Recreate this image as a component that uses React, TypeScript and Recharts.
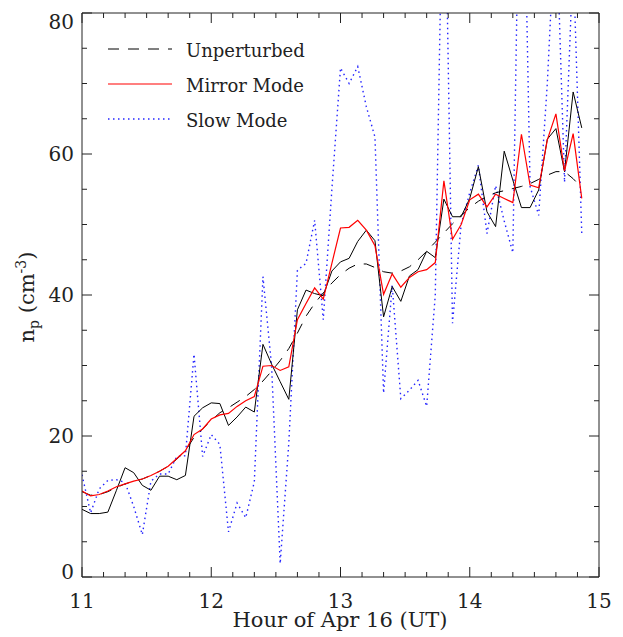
import { Legend, Line, LineChart, XAxis, YAxis } from 'recharts'

// sample times, minutes after 11:00 UT
const minutes = [
  0, 4, 8, 12, 16, 20, 24, 28, 32, 36, 40, 44, 48, 52, 56, 60, 64, 68, 72, 76,
  80, 84, 88, 92, 96, 100, 104, 108, 112, 116, 120, 124, 128, 132, 136, 140, 144, 148, 152, 156,
  160, 164, 168, 172, 176, 180, 184, 188, 192, 196, 200, 204, 208, 212, 216, 220, 224, 228, 232
]

// the solid black curve (no legend entry)
const observed = [
  9.6, 9.0, 9.0, 9.2, 12.3, 15.5, 14.8, 13.0, 12.3, 14.3, 14.3, 13.8, 14.4, 22.8, 24.0, 24.7, 24.6, 21.5, 22.7, 24.1,
  23.4, 33.0, 30.2, 27.7, 25.2, 37.9, 40.7, 40.2, 39.9, 43.4, 44.7, 45.2, 47.6, 49.2, 47.7, 36.9, 41.2, 39.1, 42.7, 43.6,
  46.2, 45.3, 53.6, 51.1, 51.1, 53.7, 58.2, 51.8, 49.7, 60.4, 56.3, 52.4, 52.4, 54.9, 62.1, 63.6, 57.5, 68.8, 63.7
]

const unperturbed = [
  12.1, 11.6, 11.7, 12.1, 12.7, 13.2, 13.6, 13.9, 14.4, 15.0, 15.7, 16.7, 17.9, 19.8, 21.0, 22.2, 23.3, 24.0, 24.8, 25.6,
  26.6, 27.8, 29.2, 30.7, 32.4, 34.6, 37.0, 38.8, 40.3, 41.7, 42.9, 43.8, 44.4, 44.4, 43.9, 43.3, 43.1, 43.4, 44.0, 45.0,
  46.2, 47.5, 48.8, 50.1, 51.3, 52.4, 53.3, 54.0, 54.5, 54.8, 55.1, 55.4, 55.8, 56.4, 57.0, 57.5, 57.5, 56.5, 55.2
]

const mirrorMode = [
  12.2, 11.5, 11.7, 12.2, 12.8, 13.2, 13.6, 13.9, 14.4, 15.0, 15.7, 16.8, 17.9, 20.2, 21.0, 22.4, 23.0, 23.2, 24.2, 25.0,
  25.6, 29.9, 30.0, 29.3, 29.8, 36.5, 38.8, 41.0, 39.4, 44.5, 49.5, 49.6, 50.6, 49.2, 47.0, 40.1, 43.0, 41.1, 42.5, 43.3,
  43.6, 44.6, 56.2, 47.9, 50.0, 53.5, 54.3, 52.5, 54.3, 53.7, 53.1, 62.8, 55.6, 55.2, 62.0, 65.7, 57.6, 62.9, 53.7
]

const slowMode = [
  14.5, 9.1, 12.5, 13.7, 13.8, 13.4, 10.0, 6.0, 13.6, 14.6, 14.6, 17.1, 17.2, 31.6, 17.1, 20.2, 18.8, 6.4, 10.5, 8.4,
  13.5, 42.6, 30.0, 1.9, 19.0, 43.5, 44.5, 50.6, 36.5, 55.0, 72.2, 70.0, 72.4, 66.7, 62.4, 26.1, 41.4, 25.3, 26.5, 27.9,
  24.2, 40.0, 110, 36.0, 50.0, 54.5, 58.4, 48.7, 55.5, 50.5, 46.0, 120, 55.4, 51.3, 70.0, 95.0, 56.0, 88.0, 48.7
]

const xMajor = [11, 12, 13, 14, 15]
const yMajor = [0, 20, 40, 60, 80]

const data = minutes.map((m, i) => ({
  hour: 11 + m / 60,
  observed: observed[i],
  unperturbed: unperturbed[i],
  mirror: mirrorMode[i],
  slow: slowMode[i]
}))

// minor ticks every 10 min on x, every 5 on y
const xTicks: number[] = []
for (let k = 0; k <= 24; k++) xTicks.push(11 + k / 6)
const yTicks: number[] = []
for (let k = 0; k <= 16; k++) yTicks.push(k * 5)

const FONT = 'DejaVu Serif'
const INK = '#222'
const isMajorX = (v: number) => xMajor.some((t) => Math.abs(t - v) < 1e-6)
const isMajorY = (v: number) => yMajor.some((t) => Math.abs(t - v) < 1e-6)

function BottomTick(props: any) {
  const { x, y, payload } = props
  const major = isMajorX(payload.value)
  return (
    <g>
      <line x1={x} x2={x} y1={y} y2={y - (major ? 10 : 5)} stroke={INK} />
      {major && (
        <text x={x} y={y + 31} textAnchor="middle" fontFamily={FONT} fontSize={20} fill={INK}>
          {Math.round(payload.value)}
        </text>
      )}
    </g>
  )
}

function TopTick(props: any) {
  const { x, y, payload } = props
  const major = isMajorX(payload.value)
  return <line x1={x} x2={x} y1={y} y2={y + (major ? 10 : 5)} stroke={INK} />
}

function LeftTick(props: any) {
  const { x, y, payload } = props
  const v = payload.value
  const major = isMajorY(v)
  const shift = v === 80 ? 9 : v === 0 ? -5 : 0
  return (
    <g>
      <line x1={x} x2={x + (major ? 10 : 5)} y1={y} y2={y} stroke={INK} />
      {major && (
        <text x={x - 8} y={y + 7 + shift} textAnchor="end" fontFamily={FONT} fontSize={20} fill={INK}>
          {v}
        </text>
      )}
    </g>
  )
}

function RightTick(props: any) {
  const { x, y, payload } = props
  const major = isMajorY(payload.value)
  return <line x1={x} x2={x - (major ? 10 : 5)} y1={y} y2={y} stroke={INK} />
}

function XTitle() {
  return (
    <text x={340} y={627} textAnchor="middle" fontFamily={FONT} fontSize={21} fill={INK}>
      Hour of Apr 16 (UT)
    </text>
  )
}

function YTitle() {
  return (
    <text
      x={34}
      y={297}
      transform="rotate(-90, 34, 297)"
      textAnchor="middle"
      fontFamily={FONT}
      fontSize={21}
      fill={INK}
    >
      n<tspan fontSize={14} dy={5}>p</tspan>
      <tspan dy={-5}> (cm</tspan>
      <tspan fontSize={14} dy={-8}>-3</tspan>
      <tspan dy={8}>)</tspan>
    </text>
  )
}

function LegendBox() {
  const rows = [
    { label: 'Unperturbed', color: '#000', dash: '11 9', width: 1 },
    { label: 'Mirror Mode', color: '#ff0000', dash: undefined, width: 1.2 },
    { label: 'Slow Mode', color: '#2424ff', dash: '1.5 3.5', width: 1.4 }
  ]
  return (
    <svg width={230} height={100}>
      {rows.map((r, i) => (
        <g key={r.label}>
          <line
            x1={8}
            x2={72}
            y1={14 + i * 35}
            y2={14 + i * 35}
            stroke={r.color}
            strokeWidth={r.width}
            strokeDasharray={r.dash}
          />
          <text x={86} y={22 + i * 35} fontFamily={FONT} fontSize={18} fill={INK}>
            {r.label}
          </text>
        </g>
      ))}
    </svg>
  )
}

export default function App() {
  return (
    <div style={{ position: 'absolute', left: 0, top: 0, width: 623, height: 637, background: '#fff' }}>
      <LineChart width={623} height={637} data={data} margin={{ top: 0, right: 0, bottom: 0, left: 0 }}>
        <XAxis
          xAxisId="bottom"
          dataKey="hour"
          type="number"
          domain={[11, 15]}
          ticks={xTicks}
          interval={0}
          allowDataOverflow
          height={60}
          tickSize={0}
          tickMargin={0}
          tick={<BottomTick />}
          axisLine={{ stroke: INK }}
          label={{ content: () => <XTitle /> }}
        />
        <XAxis
          xAxisId="top"
          orientation="top"
          dataKey="hour"
          type="number"
          domain={[11, 15]}
          ticks={xTicks}
          interval={0}
          allowDataOverflow
          height={13}
          tickSize={0}
          tickMargin={0}
          tick={<TopTick />}
          axisLine={{ stroke: INK }}
        />
        <YAxis
          yAxisId="left"
          type="number"
          domain={[0, 80]}
          ticks={yTicks}
          interval={0}
          allowDataOverflow
          width={82}
          tickSize={0}
          tickMargin={0}
          tick={<LeftTick />}
          axisLine={{ stroke: INK }}
          label={{ content: () => <YTitle /> }}
        />
        <YAxis
          yAxisId="right"
          orientation="right"
          type="number"
          domain={[0, 80]}
          ticks={yTicks}
          interval={0}
          allowDataOverflow
          width={24}
          tickSize={0}
          tickMargin={0}
          tick={<RightTick />}
          axisLine={{ stroke: INK }}
        />
        <Legend
          layout="horizontal"
          verticalAlign="middle"
          align="center"
          content={() => <LegendBox />}
          wrapperStyle={{ position: 'absolute', left: 100, top: 35, width: 230, height: 100 }}
        />
        <Line
          xAxisId="bottom"
          yAxisId="left"
          dataKey="slow"
          type="linear"
          stroke="#2424ff"
          strokeWidth={1.4}
          strokeDasharray="1.5 3.5"
          dot={false}
          isAnimationActive={false}
        />
        <Line
          xAxisId="bottom"
          yAxisId="left"
          dataKey="unperturbed"
          type="linear"
          stroke="#000"
          strokeWidth={1}
          strokeDasharray="11 9"
          dot={false}
          isAnimationActive={false}
        />
        <Line
          xAxisId="bottom"
          yAxisId="left"
          dataKey="observed"
          type="linear"
          stroke="#000"
          strokeWidth={1}
          dot={false}
          isAnimationActive={false}
        />
        <Line
          xAxisId="bottom"
          yAxisId="left"
          dataKey="mirror"
          type="linear"
          stroke="#ff0000"
          strokeWidth={1.2}
          dot={false}
          isAnimationActive={false}
        />
      </LineChart>
    </div>
  )
}
